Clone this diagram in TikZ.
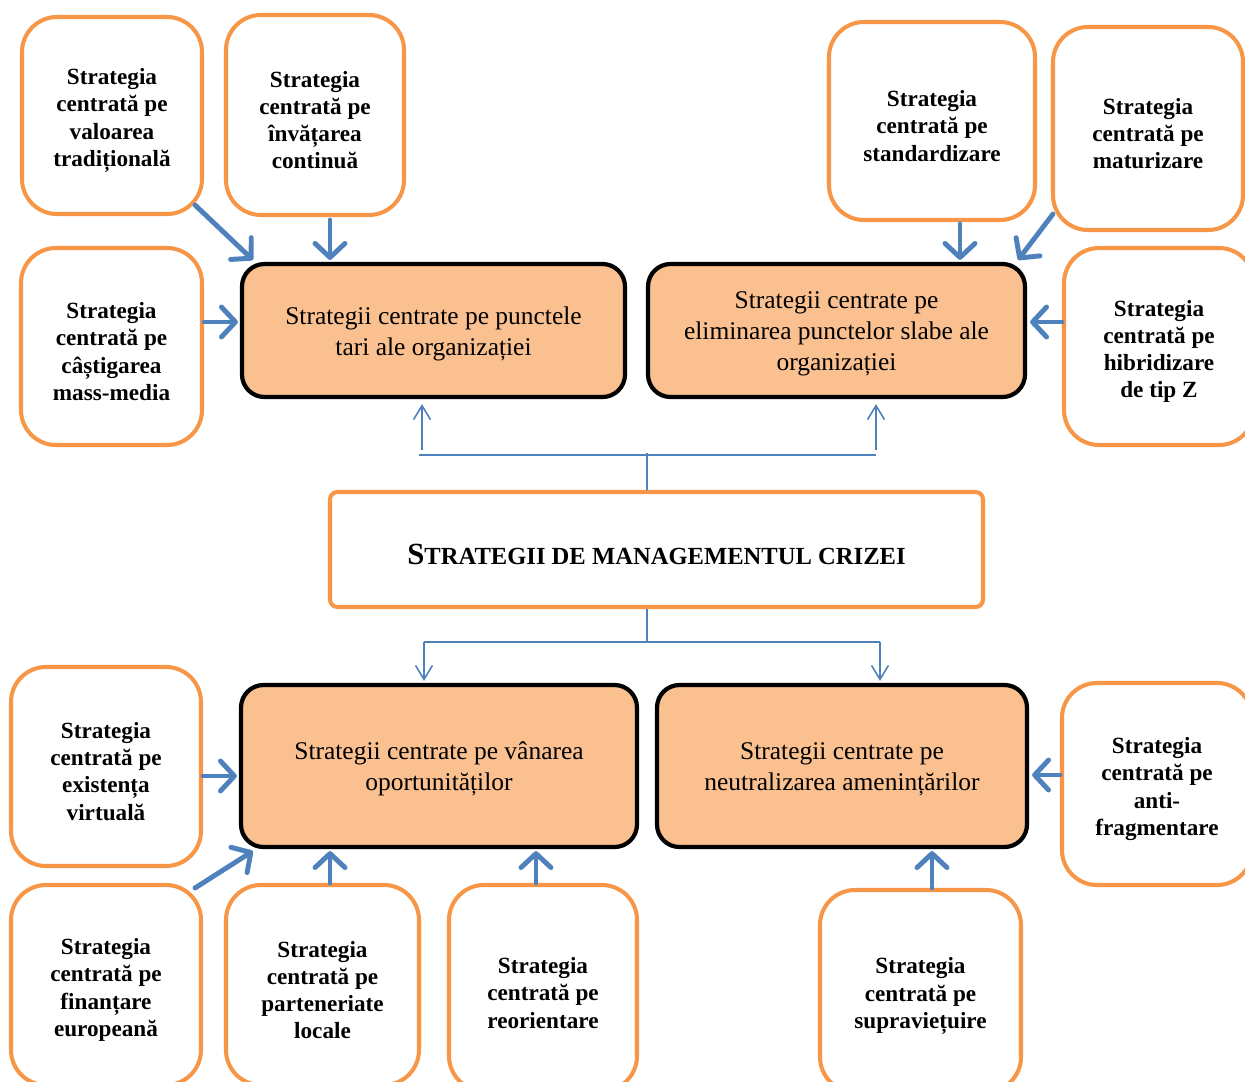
\documentclass[tikz,border=0pt]{standalone}
\usepackage{fontspec}
\setmainfont{Liberation Serif}
\usetikzlibrary{arrows.meta,calc}
\definecolor{ora}{HTML}{F79646}
\definecolor{peach}{HTML}{FAC090}
\definecolor{arb}{HTML}{4F81BD}
\newcommand{\strutO}{\rule{0pt}{14.8pt}}
\newcommand{\strutM}{\rule{0pt}{13.5pt}}
\tikzset{
  obox/.style={draw=ora, line width=2.3pt, rounded corners=0.7cm, fill=white, align=center,
    font=\fontsize{13.2}{15.5}\selectfont\bfseries, inner sep=0pt},
  mbox/.style={draw=black, line width=2.4pt, rounded corners=0.45cm, fill=peach, align=center,
    font=\fontsize{14.5}{17.6}\selectfont, inner sep=0pt},
  cbox/.style={draw=ora, line width=2.3pt, rounded corners=0.15cm, fill=white, align=center, inner sep=0pt},
  sz/.style 2 args={minimum width=#1*0.02cm, minimum height=#2*0.02cm},
  thk/.style={draw=arb, line width=2.8pt, line cap=round, -{Straight Barb[length=2.8mm,width=6mm,round]}},
  thn/.style={draw=arb, line width=0.9pt},
  thna/.style={thn, -{Straight Barb[length=2.8mm,width=3.4mm]}}
}
\begin{document}
\begin{tikzpicture}[x=0.02cm,y=-0.02cm]
\useasboundingbox (0,0) rectangle (1245,1082);
\clip (0,0) rectangle (1245,1082);
\fill[white] (0,0) rectangle (1245,1082);

% small strategy boxes
\node[obox, sz={180}{197}] (b1) at (112,115.5) {\strutO Strategia\\centrată pe\\valoarea\\tradițională};
\node[obox, sz={178}{200}] (b2) at (315,115) {\strutO Strategia\\centrată pe\\învățarea\\continuă};
\node[obox, sz={181}{197}] (b3) at (111.5,346.5) {\strutO Strategia\\centrată pe\\câștigarea\\mass-media};
\node[obox, sz={206}{198}] (b4) at (932,121) {\strutO Strategia\\centrată pe\\standardizare};
\node[obox, sz={190}{203}] (b5) at (1148,128.5) {\strutO Strategia\\centrată pe\\maturizare};
\node[obox, sz={190}{197}] (b6) at (1159,346.5) {\strutO Strategia\\centrată pe\\hibridizare\\de tip Z};
\node[obox, sz={190}{199}] (b7) at (106,766.5) {\strutO Strategia\\centrată pe\\existența\\virtuală};
\node[obox, sz={190}{202}] (b8) at (1157,784) {\strutO Strategia\\centrată pe\\anti-\\fragmentare};
\node[obox, sz={190}{200}] (b9) at (106,985) {\strutO Strategia\\centrată pe\\finanțare\\europeană};
\node[obox, sz={193}{200}] (b10) at (322.5,985) {\strutO Strategia\\centrată pe\\parteneriate\\locale};
\node[obox, sz={188}{206}] (b11) at (543,988) {\strutO Strategia\\centrată pe\\reorientare};
\node[obox, sz={201}{202}] (b12) at (920.5,991) {\strutO Strategia\\centrată pe\\supraviețuire};

% main boxes
\node[mbox, sz={383}{133}] (m1) at (433.5,330.5) {\strutM Strategii centrate pe punctele\\tari ale organizației};
\node[mbox, sz={377}{133}] (m2) at (836.5,330.5) {\strutM Strategii centrate pe\\eliminarea punctelor slabe ale\\organizației};
\node[mbox, sz={396}{162}] (m3) at (439,766) {\strutM Strategii centrate pe vânarea\\oportunităților};
\node[mbox, sz={370}{162}] (m4) at (842,766) {\strutM Strategii centrate pe\\neutralizarea amenințărilor};

% central box
\node[cbox, sz={653}{115}] (c) at (656.5,549.5)
  {\rule{0pt}{17.4pt}\bfseries{\fontsize{17.5}{20}\selectfont S}{\fontsize{14}{17}\selectfont TRATEGII DE MANAGEMENTUL CRIZEI}};

% thick arrows
\draw[thk] ($(b1.south east)+(-9,-11)$) -- ($(m1.north west)+(13,-2)$);
\coordinate (s2) at ($(b2.south)+(15,3)$);
\draw[thk] (s2) -- ($(s2 |- m1.north)+(0,-2)$);
\coordinate (s3) at ($(b3.east)+(0,-24.5)$);
\draw[thk] (s3) -- ($(s3 -| m1.west)+(-2,0)$);
\coordinate (s4) at ($(b4.south)+(28,2)$);
\draw[thk] (s4) -- ($(s4 |- m2.north)+(0,-2)$);
\draw[thk] ($(b5.south west)+(2,-18)$) -- ($(m2.north east)+(-9,-2)$);
\coordinate (s6) at ($(b6.west)+(0,-24.5)$);
\draw[thk] (s6) -- ($(s6 -| m2.east)+(3,0)$);
\coordinate (s7) at ($(b7.east)+(0,9.5)$);
\draw[thk] (s7) -- ($(s7 -| m3.west)+(-2,0)$);
\draw[thk] ($(b9.north east)+(-8,5)$) -- ($(m3.south west)+(14,2)$);
\coordinate (s10) at ($(b10.north)+(7.5,0)$);
\draw[thk] (s10) -- ($(s10 |- m3.south)+(0,2)$);
\coordinate (s11) at ($(b11.north)+(-7,0)$);
\draw[thk] (s11) -- ($(s11 |- m3.south)+(0,2)$);
\coordinate (s12) at ($(b12.north)+(11.5,0)$);
\draw[thk] (s12) -- ($(s12 |- m4.south)+(0,2)$);
\coordinate (s8) at ($(b8.west)+(0,-9)$);
\draw[thk] (s8) -- ($(s8 -| m4.east)+(3,0)$);

% thin connectors, top
\coordinate (ta) at ($(m1.south)+(-11.5,5)$);
\coordinate (tb) at ($(m2.south)+(39.5,5)$);
\coordinate (tj) at ($(c.north)+(-9.5,-35)$);
\draw[thn] ($(c.north)+(-9.5,0)$) -- ($(tj)+(0,-2)$);
\draw[thn] ($(tj -| ta)+(-3,0)$) -- (tj -| tb);
\draw[thna] ($(tj -| ta)+(0,-5)$) -- (ta);
\draw[thna] ($(tj -| tb)+(0,-5)$) -- (tb);

% thin connectors, bottom
\coordinate (ba) at ($(m3.north)+(-15,-2)$);
\coordinate (bb) at ($(m4.north)+(38,-2)$);
\coordinate (bj) at ($(c.south)+(-9.5,33)$);
\draw[thn] ($(c.south)+(-9.5,0)$) -- (bj);
\draw[thn] (bj -| ba) -- (bj -| bb);
\draw[thna] (bj -| ba) -- (ba);
\draw[thna] (bj -| bb) -- (bb);
\end{tikzpicture}
\end{document}
